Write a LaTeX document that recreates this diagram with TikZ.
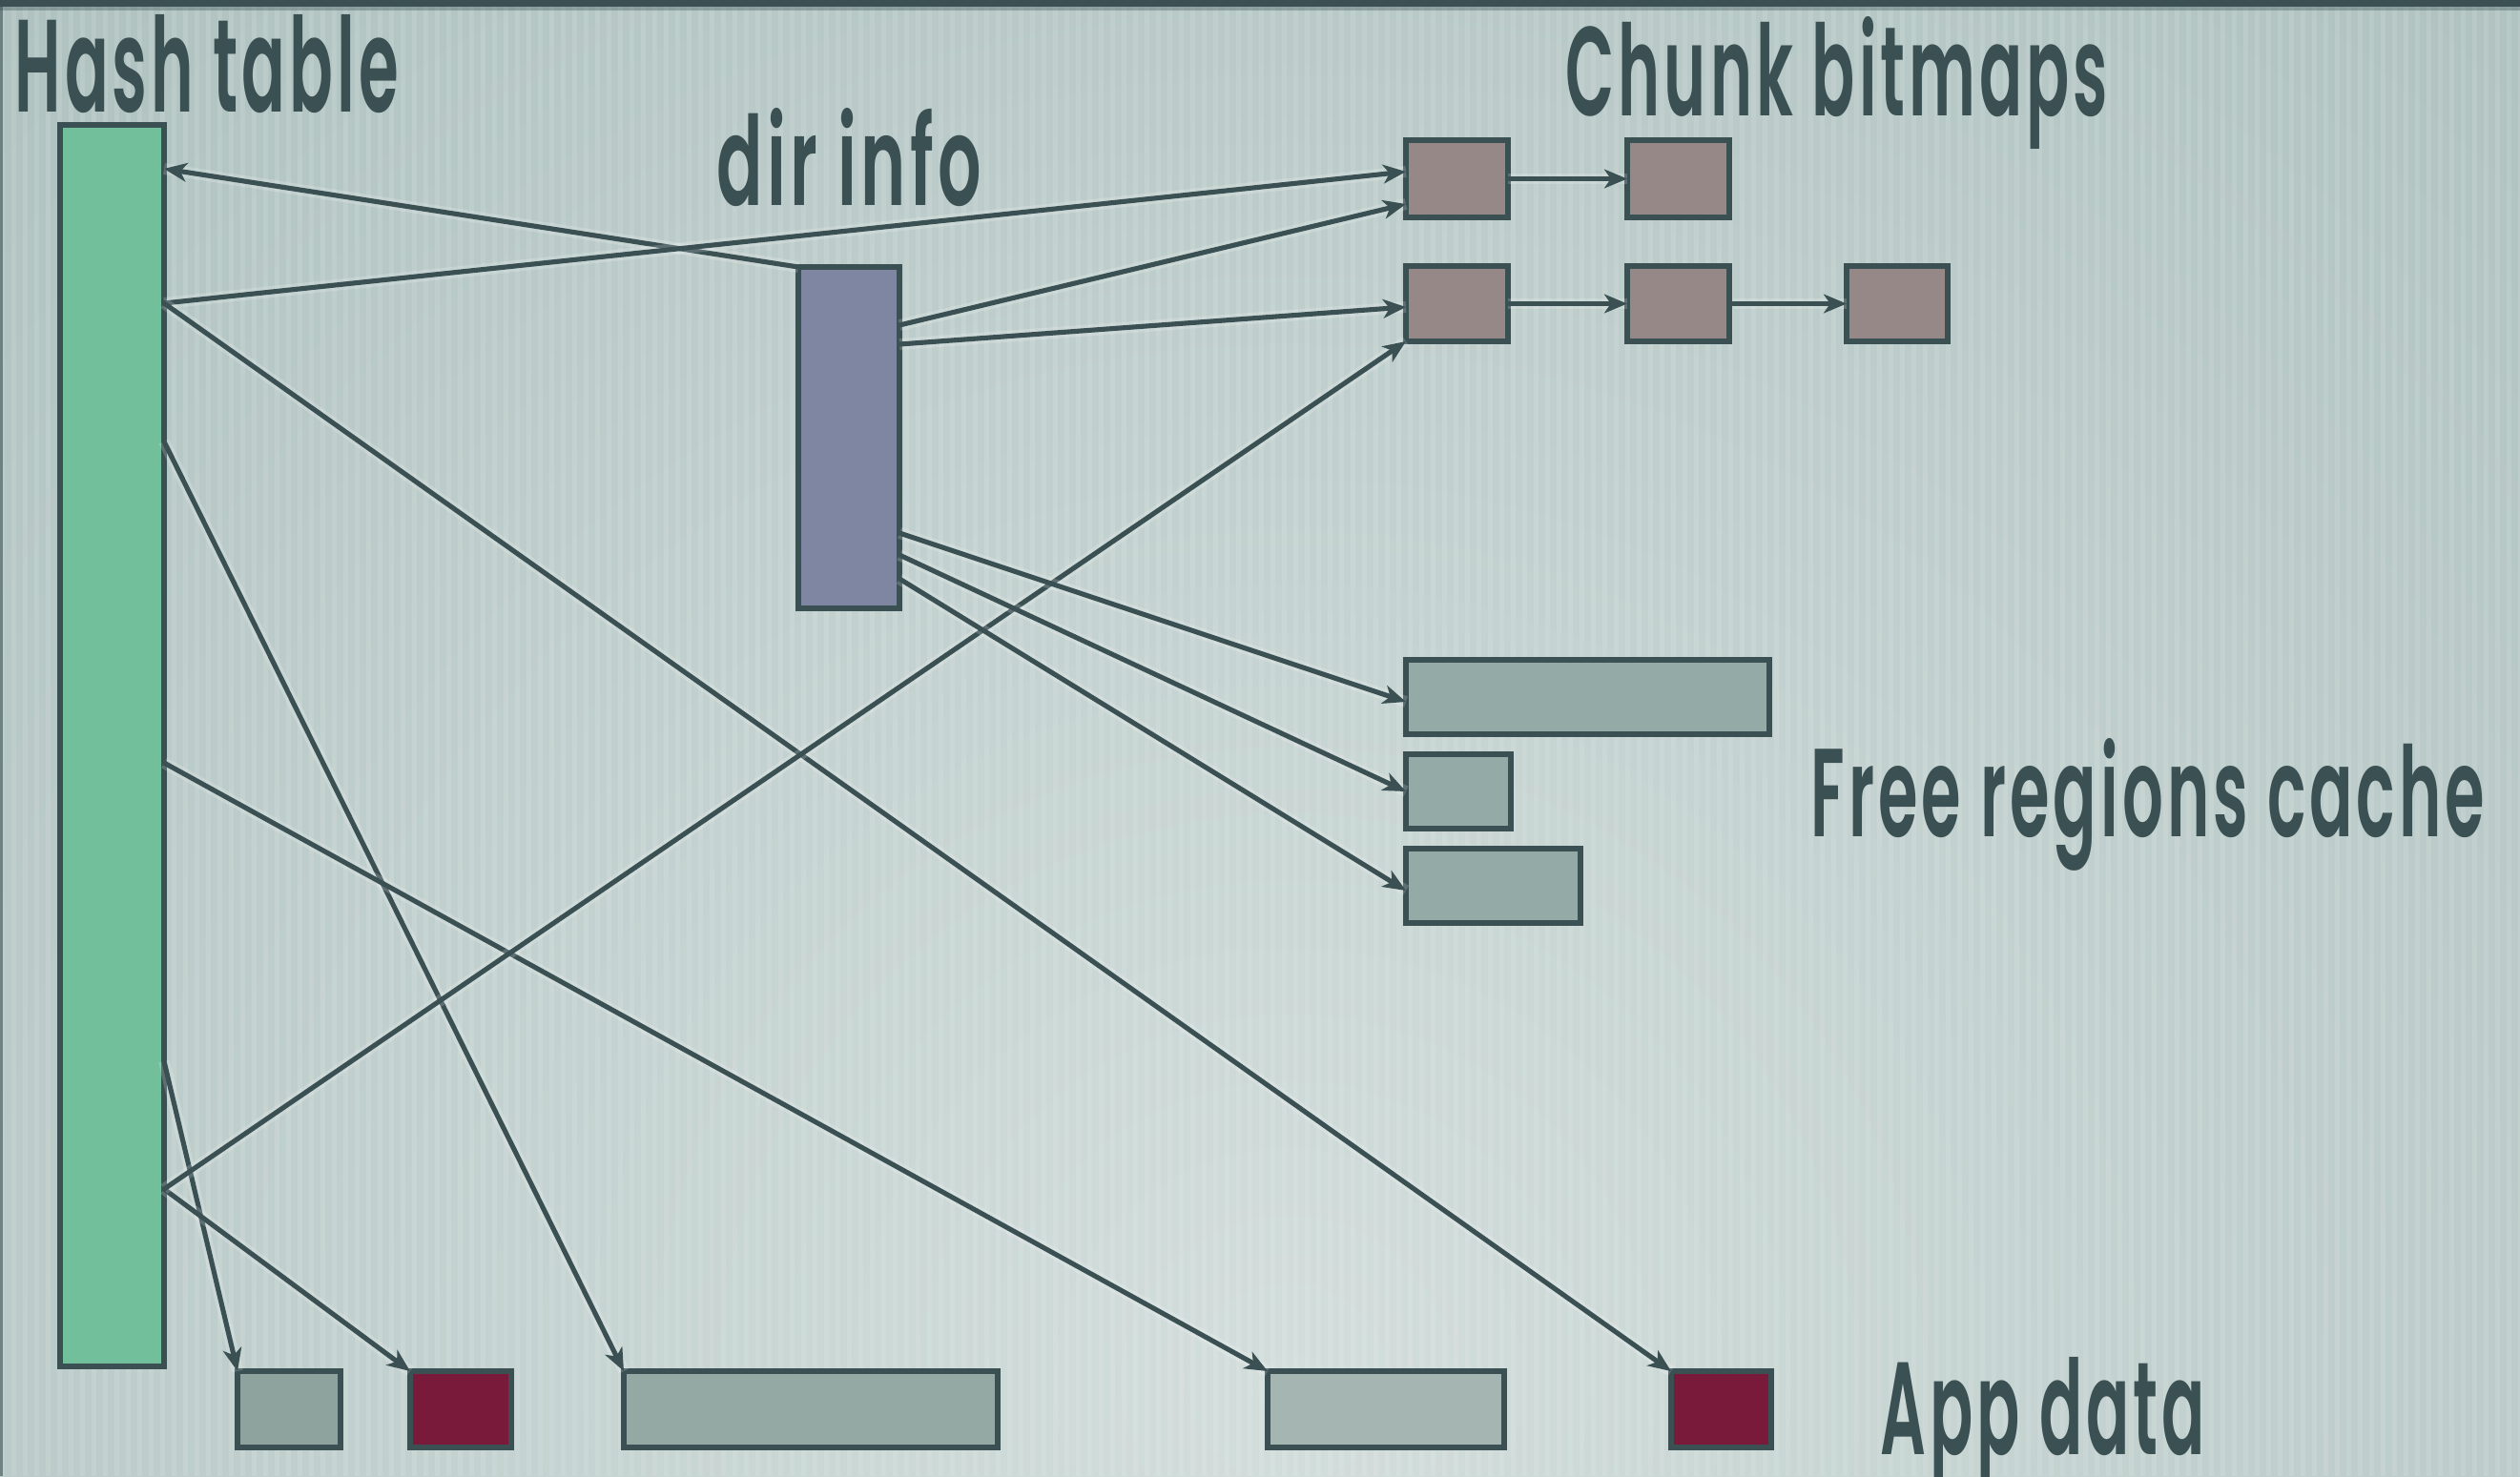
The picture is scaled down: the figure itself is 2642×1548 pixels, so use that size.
\documentclass[tikz,border=0pt]{standalone}
\usepackage{fontspec}
\usepackage{graphicx}
\newfontfamily\lab[UprightFont=* SemiBold, LetterSpace=6]{Poppins}
\usetikzlibrary{arrows.meta,calc}
\definecolor{ink}{HTML}{3A5053}
\definecolor{bgout}{HTML}{A3B9B7}
\definecolor{bgin}{HTML}{D3DEDC}
\definecolor{hashc}{HTML}{72BF9C}
\definecolor{dirc}{HTML}{7F86A1}
\definecolor{chunkc}{HTML}{968887}
\definecolor{freec}{HTML}{94AAA6}
\definecolor{appg}{HTML}{95A9A4}
\definecolor{appr}{HTML}{7A1A3A}
\newcommand\mkbox[6]{\node[box, fill=#6, minimum width={(#4-#2)*0.01cm}, minimum height={(#5-#3)*0.01cm}] (#1) at (#2,#3) {};}
\begin{document}
\begin{tikzpicture}[x=0.01cm,y=-0.01cm,
  box/.style={draw=ink, line width=1.45pt, inner sep=0pt, outer sep=0pt, anchor=north west},
  conn/.style={draw=ink, line width=1.45pt, line cap=round,
    preaction={draw=white, draw opacity=0.18, line width=3.4pt, -},
    -{Stealth[length=6.8pt,width=5.6pt,inset=1.9pt]}},
  lbl/.style={text=ink, inner sep=0pt, anchor=base west}]
% background
\useasboundingbox (0,0) rectangle (2642,1548);
\begin{scope}
  \clip (0,0) rectangle (2642,1548);
  \fill[bgout] (0,0) rectangle (2642,1548);
  \shade[inner color=bgin, outer color=bgout] (1350,1450) circle (2600);
  \foreach \i in {0,12,...,2640} {\fill[white, opacity=0.11] (\i,0) rectangle ++(5,1548);}
  \fill[ink] (0,0) rectangle (2642,7);
  \fill[ink, opacity=0.35] (0,7) rectangle (2642,11);
  \fill[ink, opacity=0.6] (0,0) rectangle (3,1548);
\end{scope}
% labels
\node[lbl] (lht) at (15,117) {\resizebox{4.02cm}{1.02cm}{\lab Hash table}};
\node[lbl] (ldi) at (751,215) {\resizebox{2.77cm}{1.02cm}{\lab dir info}};
\node[lbl] (lcb) at (1641,121) {\resizebox{5.68cm}{1.04cm}{\lab Chunk bitmaps}};
\node[lbl] (lfr) at (1898,877) {\resizebox{7.06cm}{1.03cm}{\lab Free regions cache}};
\node[lbl] (lad) at (1971,1525) {\resizebox{3.40cm}{1.02cm}{\lab App data}};
% boxes
\mkbox{ht}{63}{131}{172}{1433}{hashc}
\mkbox{di}{837}{280}{943}{638}{dirc}
\mkbox{c11}{1474}{147}{1581}{228}{chunkc}
\mkbox{c12}{1706}{147}{1813}{228}{chunkc}
\mkbox{c21}{1474}{279}{1581}{358}{chunkc}
\mkbox{c22}{1706}{279}{1813}{358}{chunkc}
\mkbox{c23}{1936}{279}{2042}{358}{chunkc}
\mkbox{f1}{1474}{692}{1855}{770}{freec}
\mkbox{f2}{1474}{791}{1584}{869}{freec}
\mkbox{f3}{1474}{890}{1657}{968}{freec}
\mkbox{a1}{249}{1438}{357}{1518}{appg!92!ink}
\mkbox{a2}{430}{1438}{536}{1518}{appr}
\mkbox{a3}{654}{1438}{1046}{1518}{appg}
\mkbox{a4}{1329}{1438}{1577}{1518}{appg!85!white}
\mkbox{a5}{1752}{1438}{1857}{1518}{appr}
% connectors
\draw[conn] (di.north west) -- ($(ht.north east)+(0,46)$);
\draw[conn] ($(ht.north east)+(0,187)$) -- ($(c11.north west)+(0,33)$);
\draw[conn] ($(ht.north east)+(0,187)$) -- (a5.north west);
\draw[conn] ($(ht.north east)+(0,332)$) -- (a3.north west);
\draw[conn] ($(ht.north east)+(0,669)$) -- (a4.north west);
\draw[conn] ($(ht.north east)+(0,982)$) -- (a1.north west);
\draw[conn] ($(ht.north east)+(0,1116)$) -- (a2.north west);
\draw[conn] ($(ht.north east)+(0,1116)$) -- (c21.south west);
\draw[conn] ($(di.north east)+(0,61)$) -- ($(c11.north west)+(0,67)$);
\draw[conn] ($(di.north east)+(0,81)$) -- ($(c21.north west)+(0,43)$);
\draw[conn] (c11.east) -- (c12.west);
\draw[conn] (c21.east) -- (c22.west);
\draw[conn] ($(c22.east)+(4,0)$) -- (c23.west);
\draw[conn] ($(di.north east)+(0,279)$) -- ($(f1.north west)+(0,44)$);
\draw[conn] ($(di.north east)+(0,302)$) -- (f2.west);
\draw[conn] ($(di.north east)+(0,327)$) -- ($(f3.north west)+(0,44)$);
\end{tikzpicture}
\end{document}
